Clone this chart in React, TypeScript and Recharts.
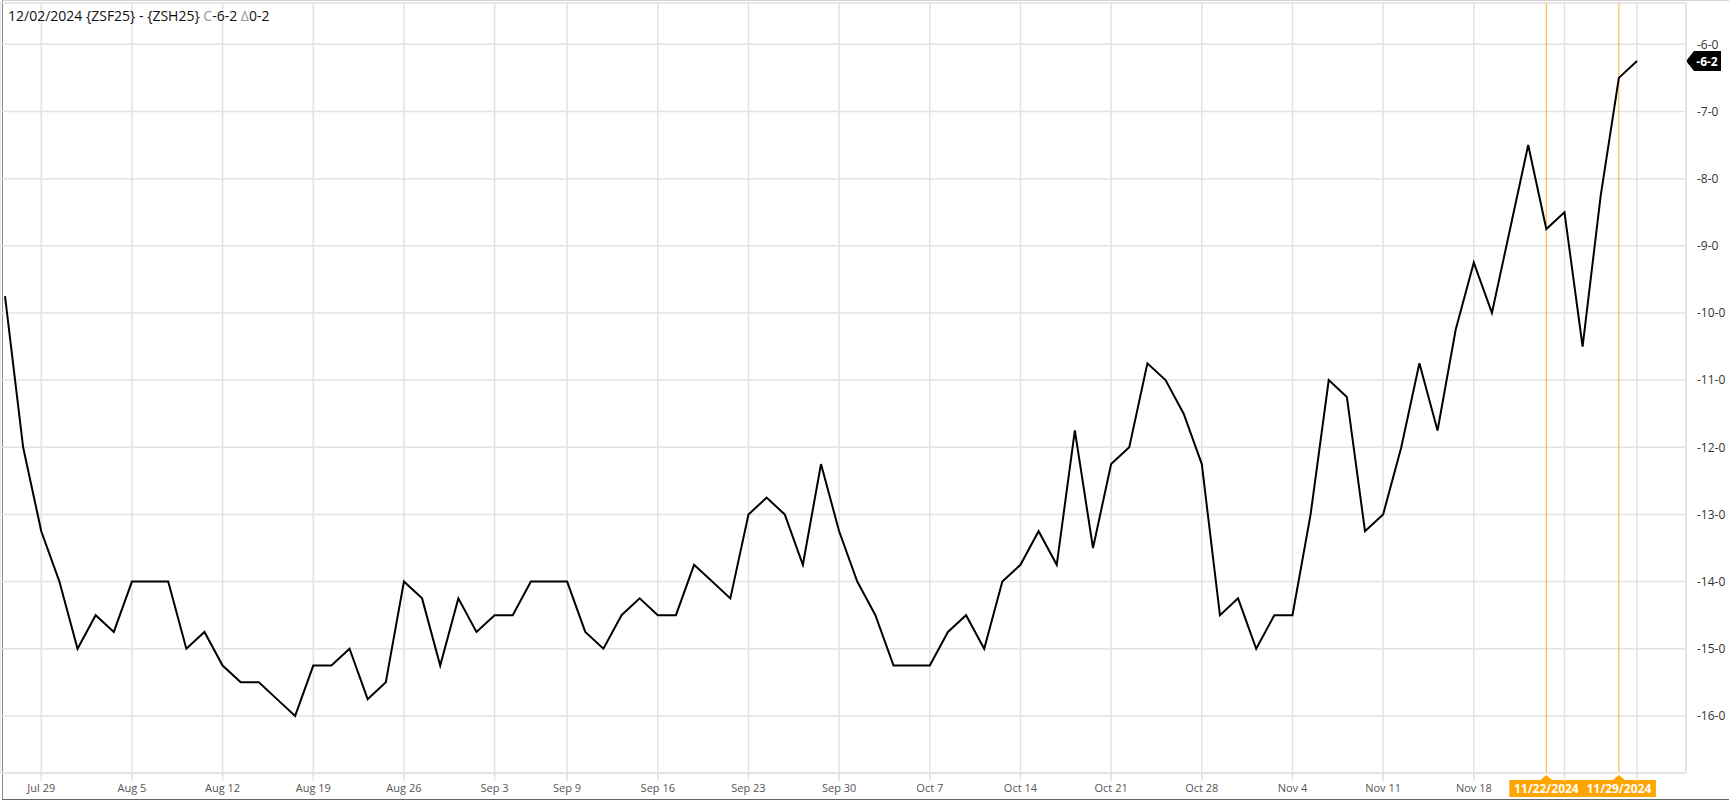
import { LineChart, Line, XAxis, YAxis, CartesianGrid, ReferenceLine } from "recharts";

// trading days, Jul 25 – Dec 2 2024
const dates = [
  "07/25", "07/26",
  "07/29", "07/30", "07/31", "08/01", "08/02",
  "08/05", "08/06", "08/07", "08/08", "08/09",
  "08/12", "08/13", "08/14", "08/15", "08/16",
  "08/19", "08/20", "08/21", "08/22", "08/23",
  "08/26", "08/27", "08/28", "08/29", "08/30",
  "09/03", "09/04", "09/05", "09/06",
  "09/09", "09/10", "09/11", "09/12", "09/13",
  "09/16", "09/17", "09/18", "09/19", "09/20",
  "09/23", "09/24", "09/25", "09/26", "09/27",
  "09/30", "10/01", "10/02", "10/03", "10/04",
  "10/07", "10/08", "10/09", "10/10", "10/11",
  "10/14", "10/15", "10/16", "10/17", "10/18",
  "10/21", "10/22", "10/23", "10/24", "10/25",
  "10/28", "10/29", "10/30", "10/31", "11/01",
  "11/04", "11/05", "11/06", "11/07", "11/08",
  "11/11", "11/12", "11/13", "11/14", "11/15",
  "11/18", "11/19", "11/20", "11/21", "11/22",
  "11/25", "11/26", "11/27", "11/29",
  "12/02",
];

// ZSF25 - ZSH25 spread, cents
const spread = [
  -9.75, -12,
  -13.25, -14, -15, -14.5, -14.75,
  -14, -14, -14, -15, -14.75,
  -15.25, -15.5, -15.5, -15.75, -16,
  -15.25, -15.25, -15, -15.75, -15.5,
  -14, -14.25, -15.25, -14.25, -14.75,
  -14.5, -14.5, -14, -14,
  -14, -14.75, -15, -14.5, -14.25,
  -14.5, -14.5, -13.75, -14, -14.25,
  -13, -12.75, -13, -13.75, -12.25,
  -13.25, -14, -14.5, -15.25, -15.25,
  -15.25, -14.75, -14.5, -15, -14,
  -13.75, -13.25, -13.75, -11.75, -13.5,
  -12.25, -12, -10.75, -11, -11.5,
  -12.25, -14.5, -14.25, -15, -14.5,
  -14.5, -13, -11, -11.25, -13.25,
  -13, -12, -10.75, -11.75, -10.25,
  -9.25, -10, -8.75, -7.5, -8.75,
  -8.5, -10.5, -8.25, -6.5,
  -6.25,
];

const weekStarts = ["07/29", "08/05", "08/12", "08/19", "08/26", "09/03", "09/09", "09/16", "09/23",
  "09/30", "10/07", "10/14", "10/21", "10/28", "11/04", "11/11", "11/18", "11/25", "12/02"];
const weekLabels = ["Jul 29", "Aug 5", "Aug 12", "Aug 19", "Aug 26", "Sep 3", "Sep 9", "Sep 16", "Sep 23",
  "Sep 30", "Oct 7", "Oct 14", "Oct 21", "Oct 28", "Nov 4", "Nov 11", "Nov 18", "", ""];

const yTicks = [-16, -15, -14, -13, -12, -11, -10, -9, -8, -7, -6];

const markerDates = ["11/22", "11/29"];
const markerLabels = ["11/22/2024", "11/29/2024"];

const data = dates.map((d, i) => ({ i, date: d, v: spread[i] }));
const tickIdx = weekStarts.map((d) => dates.indexOf(d));
const last = spread[spread.length - 1];

// price in cents and eighths: -6.25 -> "-6-2"
const fmt = (v: number) => {
  const a = Math.abs(v);
  const whole = Math.floor(a + 1e-9);
  const eighths = Math.round((a - whole) * 8);
  return (v < 0 ? "-" : "") + whole + "-" + eighths;
};

const FONT = "'Open Sans', sans-serif";
const ORANGE = "#FFA500";

function MarkerTag({ viewBox, text }: any) {
  const x = viewBox.x;
  const y = viewBox.y + viewBox.height + 7;
  return (
    <g>
      <polygon points={`${x - 6},${y} ${x},${y - 5} ${x + 6},${y}`} fill={ORANGE} />
      <rect x={x - 37} y={y} width={74} height={17} fill={ORANGE} />
      <text x={x} y={y + 13} textAnchor="middle" fill="#fff" fontWeight={700} fontSize={12} fontFamily={FONT}>
        {text}
      </text>
    </g>
  );
}

function LastTag({ viewBox }: any) {
  const x = viewBox.x + viewBox.width;
  const y = viewBox.y;
  return (
    <g>
      <polygon
        points={`${x},${y} ${x + 8},${y - 10} ${x + 35},${y - 10} ${x + 35},${y + 10} ${x + 8},${y + 10}`}
        fill="#000"
      />
      <text x={x + 21} y={y + 4.5} textAnchor="middle" fill="#fff" fontWeight={700} fontSize={12} fontFamily={FONT}>
        {fmt(last)}
      </text>
    </g>
  );
}

export default function App() {
  return (
    <div style={{ position: "absolute", left: 0, top: 0, width: 1729, height: 801, background: "#fff", fontFamily: FONT }}>
      <div style={{ position: "absolute", left: 2, top: 0, width: 1727, height: 798, borderLeft: "1px solid #888",
        borderBottom: "1px solid #666", borderTop: "1px solid #d4d4d4" }} />
      <LineChart width={1729} height={801} data={data} margin={{ top: 3, right: 0, bottom: 0, left: 0 }}>
        <CartesianGrid stroke="#e2e2e2" strokeWidth={1.5} />
        <XAxis
          dataKey="i"
          type="number"
          domain={[0, dates.length - 1]}
          padding={{ left: 5, right: 49 }}
          ticks={tickIdx}
          interval={0}
          tickFormatter={(v: number) => weekLabels[tickIdx.indexOf(v)] ?? ""}
          height={28}
          tickSize={8}
          tickMargin={3}
          axisLine={{ stroke: "#e2e2e2", strokeWidth: 1.5 }}
          tickLine={{ stroke: "#e2e2e2", strokeWidth: 1.5 }}
          tick={{ fill: "#555", fontSize: 11, fontFamily: FONT }}
        />
        <YAxis
          orientation="right"
          type="number"
          domain={[-16.85, -5.385]}
          allowDataOverflow
          ticks={yTicks}
          tickFormatter={fmt}
          width={43}
          tickLine={false}
          tickMargin={5}
          axisLine={{ stroke: "#e2e2e2", strokeWidth: 1.5 }}
          tick={{ fill: "#333", fontSize: 12, fontFamily: FONT }}
        />
        {markerDates.map((d, k) => (
          <ReferenceLine
            key={d}
            x={dates.indexOf(d)}
            stroke="#FFB32A"
            strokeWidth={1}
            label={(p: any) => <MarkerTag {...p} text={markerLabels[k]} />}
          />
        ))}
        <ReferenceLine y={last} stroke="none" strokeOpacity={0} label={(p: any) => <LastTag {...p} />} />
        <Line type="linear" dataKey="v" stroke="#000" strokeWidth={2} dot={false} isAnimationActive={false} />
      </LineChart>
      <div style={{ position: "absolute", left: 8, top: 6, fontSize: 14, lineHeight: "19px", color: "#111", whiteSpace: "pre" }}>
        {"12/02/2024 {ZSF25} - {ZSH25} "}
        <span style={{ color: "#999" }}>C</span>
        {"-6-2 "}
        <span style={{ color: "#999" }}>Δ</span>
        {"0-2"}
      </div>
    </div>
  );
}
